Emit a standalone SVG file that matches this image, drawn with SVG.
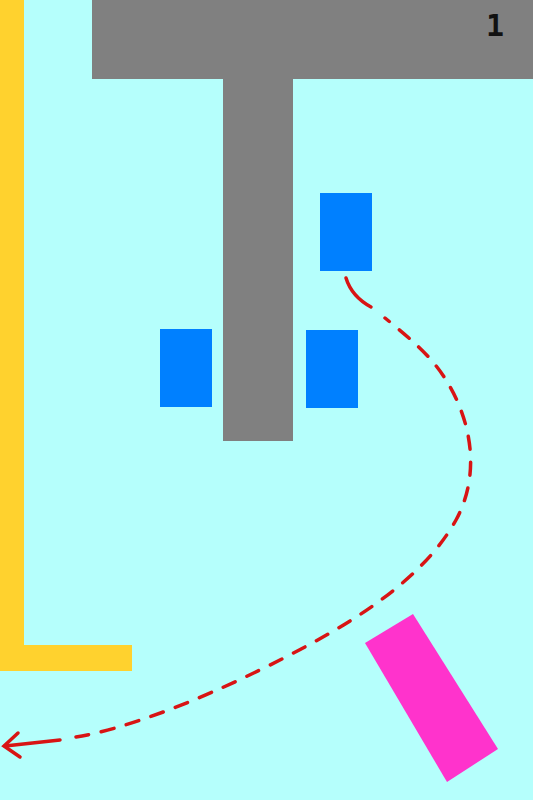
<svg xmlns="http://www.w3.org/2000/svg" width="533" height="800" viewBox="0 0 533 800">
<style>
.bg{fill:#B5FFFC}
.wall{fill:#FFD22E}
.gray{fill:#808080}
.blue{fill:#0080FF}
.mag{fill:#FF33CC}
.path{fill:none;stroke:#D81414;stroke-width:3.5;stroke-linecap:round}
.dash{stroke-dasharray:13,13}
.lbl{font-family:"DejaVu Sans Mono","Liberation Mono",monospace;font-size:30px;font-weight:bold;fill:#111}
</style>
<rect class="bg" x="0" y="0" width="533" height="800"/>
<g id="wall">
<rect class="wall" x="0" y="0" width="24" height="671"/>
<rect class="wall" x="0" y="645" width="132" height="26"/>
</g>
<g id="structure">
<rect class="gray" x="92" y="0" width="441" height="79"/>
<rect class="gray" x="223" y="78" width="70" height="363"/>
<text class="lbl" x="495" y="36" text-anchor="middle">1</text>
</g>
<g id="box1"><rect class="blue" x="320" y="193" width="52" height="78"/></g>
<g id="box2"><rect class="blue" x="160" y="329" width="52" height="78"/></g>
<g id="box3"><rect class="blue" x="306" y="330" width="52" height="78"/></g>
<g id="magenta"><polygon class="mag" points="365,643 413,614 498,749 447,782"/></g>
<g id="connectors">
<path class="path" d="M346,278 C350,291 360,301 371,307"/>
<path class="path dash" d="M76,737 C120,730 190,705 270,665 C340,630 420,585 456,520 C482,472 470,418 446,380 C432,357 412,340 385,318"/>
<path class="path" d="M60,740 L5,746"/>
<path class="path" d="M18,733 L4,746 L20,757"/>
</g>
</svg>
